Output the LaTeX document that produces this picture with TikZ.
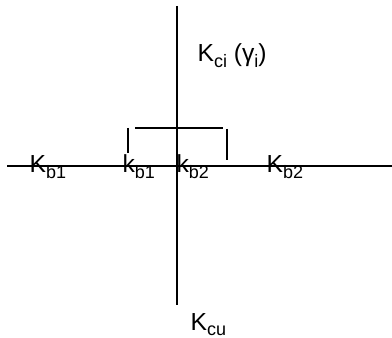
\documentclass[tikz,border=0pt]{standalone}
\usepackage{fontspec}
\setmainfont{Liberation Sans}
\usetikzlibrary{positioning}
\newcommand{\lsub}[1]{\raisebox{-0.22em}{\fontsize{13.5}{14}\selectfont #1}}

\begin{document}
\begin{tikzpicture}[x=0.75pt, y=-0.75pt, line width=0.9pt,
    lbl/.style={anchor=base west, inner sep=0pt, font=\fontsize{18.5}{20}\selectfont}]
    \useasboundingbox (0,0) rectangle (392,338);
    % 1. Axes
    \coordinate (hl) at (7,166);
    \coordinate (hr) at (392,166);
    \coordinate (vt) at (177,6);
    \coordinate (vb) at (177,305);
    \draw (hl) -- (hr);
    \draw (vt) -- (vb);

    % 2. Bracket
    \coordinate (bl) at (135,128);
    \coordinate (br) at (223,128);
    \draw (bl) -- (br);
    \draw (128,128) -- (128,153);
    \draw (227,129) -- (227,160);

    % 3. Labels
    \node[lbl] (KbOne) at (29,173) {K\lsub{b1}};
    \node[lbl] (kbOne) at (122,173) {k\lsub{b1}};
    \node[lbl] (kbTwo) at (176,173) {k\lsub{b2}};
    \node[lbl] (KbTwo) at (266,173) {K\lsub{b2}};
    \node[lbl] (Kci) at (197,62) {K\lsub{ci} (γ\lsub{i})};
    \node[lbl] (Kcu) at (190,330) {K\lsub{cu}};
\end{tikzpicture}
\end{document}
